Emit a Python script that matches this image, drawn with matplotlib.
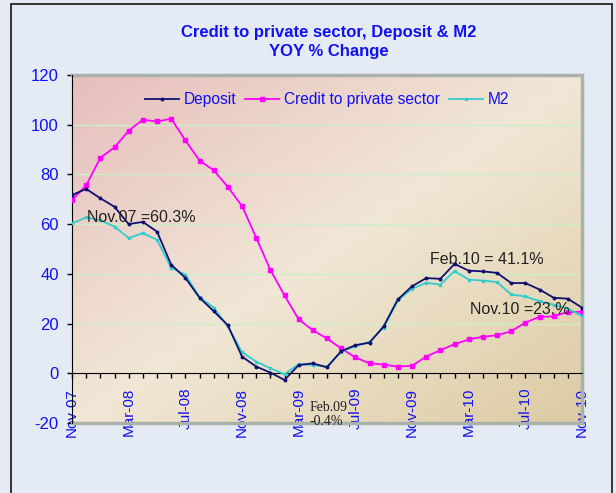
import numpy as np
import matplotlib
matplotlib.use('Agg')
import matplotlib.pyplot as plt
from matplotlib.patches import Rectangle
from matplotlib.lines import Line2D

## data, monthly Nov-07 .. Nov-10
months = ['Nov-07', 'Dec-07', 'Jan-08', 'Feb-08', 'Mar-08', 'Apr-08', 'May-08', 'Jun-08', 'Jul-08',
          'Aug-08', 'Sep-08', 'Oct-08', 'Nov-08', 'Dec-08', 'Jan-09', 'Feb-09', 'Mar-09', 'Apr-09',
          'May-09', 'Jun-09', 'Jul-09', 'Aug-09', 'Sep-09', 'Oct-09', 'Nov-09', 'Dec-09', 'Jan-10',
          'Feb-10', 'Mar-10', 'Apr-10', 'May-10', 'Jun-10', 'Jul-10', 'Aug-10', 'Sep-10', 'Oct-10', 'Nov-10']
deposit = [71.7, 74.2, 70.4, 67.0, 60.0, 60.9, 57.0, 43.7, 38.4, 30.4, 25.0, 19.3, 6.7,
           2.7, 0.3, -2.7, 3.3, 4.0, 2.4, 8.9, 11.3, 12.3, 18.9, 29.7, 35.0, 38.3, 38.0,
           44.0, 41.3, 41.0, 40.4, 36.3, 36.3, 33.7, 30.4, 30.0, 26.4]
credit = [69.7, 75.6, 86.7, 90.9, 97.6, 102.0, 101.3, 102.4, 93.7, 85.6, 81.7, 75.0, 67.3,
          54.6, 41.6, 31.3, 21.7, 17.3, 14.0, 10.0, 6.4, 4.0, 3.5, 2.7, 3.0, 6.7, 9.3,
          11.7, 13.6, 14.7, 15.3, 16.9, 20.4, 22.7, 22.9, 24.7, 24.7]
m2 = [60.3, 62.7, 61.6, 59.0, 54.4, 56.4, 53.7, 42.4, 39.7, 30.7, 26.4, 18.9, 8.5,
      4.7, 2.0, -0.4, 3.7, 3.3, 2.7, 8.7, 10.9, 12.7, 18.4, 29.3, 34.0, 36.4, 35.7,
      41.1, 37.7, 37.3, 36.7, 31.7, 30.9, 29.0, 27.6, 26.0, 23.0]
label_months = months[::4]

blue = '#1010F0'
plt.rcParams['font.family'] = ['Liberation Sans', 'DejaVu Sans']
plt.rcParams['axes.unicode_minus'] = False

fig = plt.figure(figsize=(6.16, 4.93), dpi=100, facecolor='#E4EBF4')
ax = fig.add_axes([72 / 616, 1 - 423 / 493, 510 / 616, 348 / 493])
x = np.arange(len(months))

## gradient background of the plot area
gx, gy = np.meshgrid(np.linspace(0, 1, 200), np.linspace(0, 1, 200))
t = (gx + gy) / 2.0
c0 = np.array([230, 190, 188]) / 255.0
c1 = np.array([241, 231, 214]) / 255.0
c2 = np.array([220, 203, 163]) / 255.0
img = np.where(t[..., None] < 0.5,
               c0 + (c1 - c0) * (t[..., None] / 0.5),
               c1 + (c2 - c1) * ((t[..., None] - 0.5) / 0.5))
ax.imshow(img, extent=[0, 1, 0, 1], transform=ax.transAxes, aspect='auto', zorder=0, origin='upper')

## series
ax.plot(x, credit, '-s', color='#FF00FF', lw=1.3, markersize=3, zorder=3, label='Credit to private sector')
ax.plot(x, m2, '-s', color='#33CCCC', lw=1.3, markersize=1.8, zorder=4, label='M2')
ax.plot(x, deposit, '-o', color='#101070', lw=1.3, markersize=1.8, zorder=5, label='Deposit')

ax.set_xlim(0, len(months) - 1)
ax.set_ylim(-20, 120)
ax.set_yticks(range(-20, 121, 20))
ax.set_xticks(x[::4])
ax.set_xticklabels(label_months)
ax.set_xticks(x, minor=True)

for yv in range(20, 101, 20):
    ax.axhline(yv, color='#CDEFC6', lw=1, zorder=1)

## axes: y on left, x through zero
ax.spines['bottom'].set_position(('data', 0))
ax.spines['bottom'].set_color('black')
ax.spines['bottom'].set_zorder(2)
ax.spines['left'].set_color('black')
ax.spines['top'].set_visible(False)
ax.spines['right'].set_visible(False)
ax.tick_params(axis='y', direction='out', length=3.5, width=1, pad=6, labelsize=12, labelcolor=blue)
ax.tick_params(axis='x', which='both', direction='out', length=3.5, width=1, pad=7, labelsize=11,
               labelcolor=blue, labelrotation=90)

## shadow border on top, right, bottom (below the tick labels)
ax.add_line(Line2D([0, 1, 1, 0], [1, 1, 0, 0], transform=ax.transAxes, color='#A9B1A9',
                   lw=2.5, zorder=1.8, clip_on=False, solid_joinstyle='miter'))

## legend
handles, labels = ax.get_legend_handles_labels()
order = [2, 0, 1]
ax.legend([handles[i] for i in order], [labels[i] for i in order], loc='upper center',
          bbox_to_anchor=(0.5, 0.99), ncol=3, frameon=False, fontsize=11.2, labelcolor=blue,
          handlelength=2.2, handletextpad=0.3, columnspacing=0.55)

## annotations
ax.text(1.04, 62.5, 'Nov.07 =60.3%', fontsize=11.5, color='#222222', va='center', ha='left', zorder=7)
ax.text(25.3, 45.6, 'Feb.10 = 41.1%', fontsize=11.5, color='#222222', va='center', ha='left', zorder=7)
ax.text(28.1, 25.6, 'Nov.10 =23.%', fontsize=11.5, color='#222222', va='center', ha='left', zorder=7)
ax.text(16.8, -16.4, 'Feb.09\n-0.4%', fontsize=10, color='#222222', va='center', ha='left',
        family='Liberation Serif', linespacing=1.1, zorder=7, clip_on=False)

## title
fig.text(0.534, 1 - 42 / 493, 'Credit to private sector, Deposit & M2\nYOY % Change', ha='center',
         va='center', fontsize=12, fontweight='bold', color=blue, linespacing=1.35)

## outer frame
fig.patches.append(Rectangle((11 / 616, -0.02), 601 / 616, 1.02 - 4 / 493, transform=fig.transFigure,
                             fill=False, edgecolor='#333333', lw=1.4))

plt.savefig('out.png', dpi=100, facecolor=fig.get_facecolor())
